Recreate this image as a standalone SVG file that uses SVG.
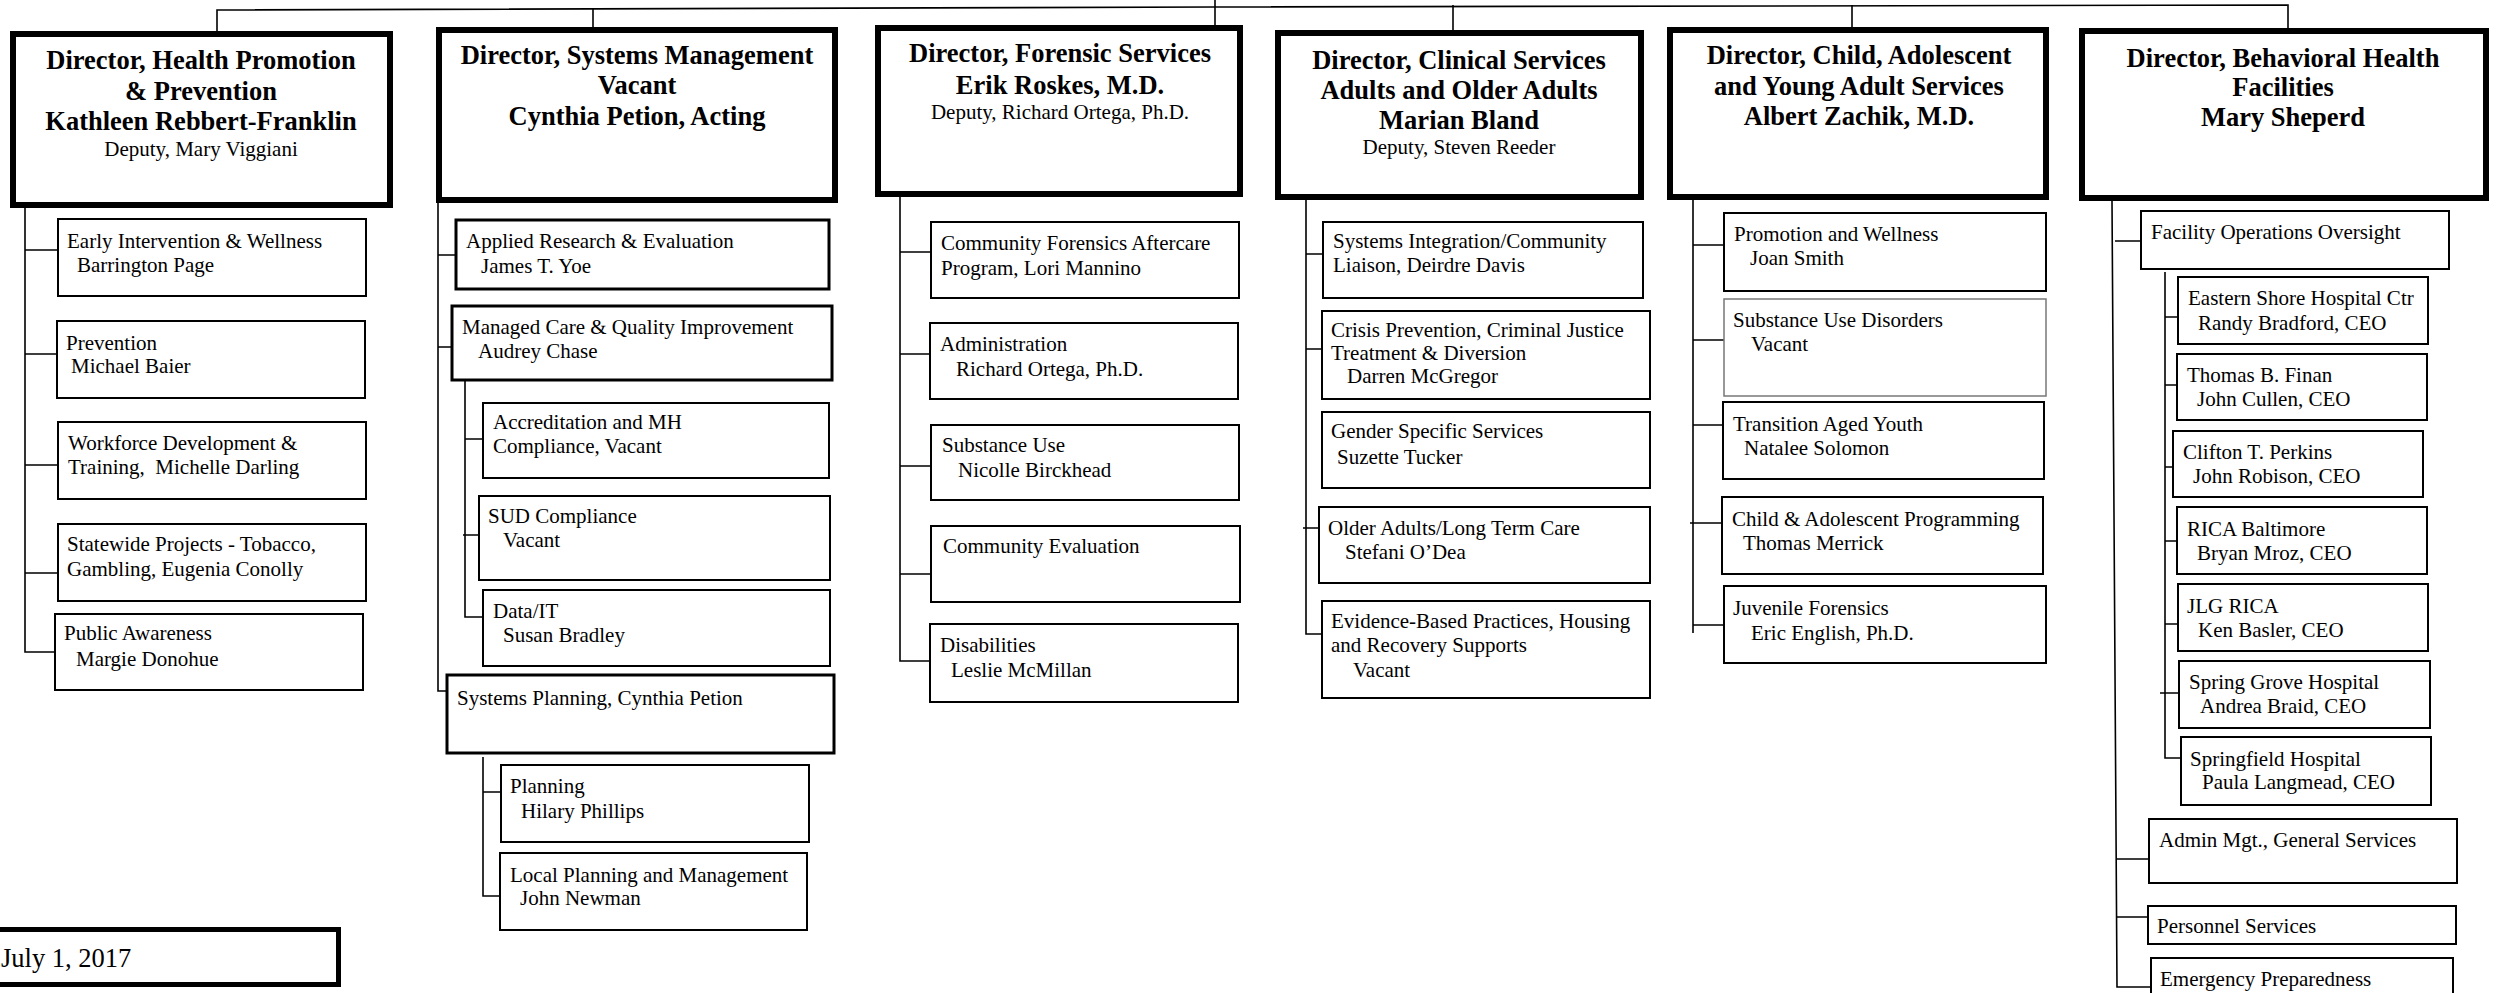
<svg xmlns="http://www.w3.org/2000/svg" width="2497" height="993" viewBox="0 0 2497 993">
<style>
text{font-family:"Liberation Serif","Times New Roman",serif;fill:#000}
.t{font-size:21px}
.h{font-size:26.5px;font-weight:bold;text-anchor:middle}
.d{font-size:21px;text-anchor:middle}
.dir{fill:#fff;stroke:#000;stroke-width:6}
.bx{fill:#fff;stroke:#000;stroke-width:2}
.bx3{fill:#fff;stroke:#000;stroke-width:3}
.gr{fill:#fff;stroke:#777;stroke-width:1.5}
.c{fill:none;stroke:#000;stroke-width:1.6}
</style>
<rect width="2497" height="993" fill="#fff"/>
<g id="connectors" class="c">
<polyline points="217,31 217,10 1215,7 2288,5 2288,28"/>
<line x1="593" y1="9" x2="593" y2="27"/>
<line x1="1215" y1="0" x2="1215" y2="28"/>
<line x1="1453" y1="5" x2="1453" y2="30"/>
<line x1="1852" y1="5" x2="1852" y2="27"/>
<path d="M25,208V652H55M25,250H58M25,354H57M25,465H58M25,573H58"/>
<path d="M438,203V691H447M438,255H456M438,347H452"/>
<path d="M465,380V617H483M465,439H483M463,535H479"/>
<path d="M483,757V896H500M483,792H501"/>
<path d="M900,197V661H930M900,252H931M900,354H930M900,466H931M900,574H931"/>
<path d="M1306,200V634H1322M1306,254H1323M1306,349H1322M1303,528H1319"/>
<path d="M1693,200V633M1693,245H1724M1693,340H1724M1693,425H1723M1690,523H1722M1693,625H1724"/>
<path d="M2112,201L2117,987H2151M2115,241H2141M2117,859H2149M2117,917H2148"/>
<path d="M2165,272V758H2181M2165,317H2178M2165,385H2177M2165,467H2173M2165,541H2177M2165,624H2178M2160,693H2179"/>
</g>
<g id="n-hp">
<rect class="dir" x="13" y="34" width="377" height="171"/>
<text class="h" x="201" y="69">Director, Health Promotion</text>
<text class="h" x="201" y="100">&amp; Prevention</text>
<text class="h" x="201" y="130">Kathleen Rebbert-Franklin</text>
<text class="d" x="201" y="156">Deputy, Mary Viggiani</text>
</g>
<g id="n-ei"><rect class="bx" x="58" y="219" width="308" height="77"/><text class="t" x="67" y="248">Early Intervention &amp; Wellness</text><text class="t" x="77" y="272">Barrington Page</text></g>
<g id="n-prev"><rect class="bx" x="57" y="321" width="308" height="77"/><text class="t" x="66" y="350">Prevention</text><text class="t" x="71" y="373">Michael Baier</text></g>
<g id="n-wf"><rect class="bx" x="58" y="422" width="308" height="77"/><text class="t" x="68" y="450">Workforce Development &amp;</text><text class="t" x="68" y="474" xml:space="preserve">Training,  Michelle Darling</text></g>
<g id="n-sw"><rect class="bx" x="58" y="524" width="308" height="77"/><text class="t" x="67" y="551">Statewide Projects - Tobacco,</text><text class="t" x="67" y="576">Gambling, Eugenia Conolly</text></g>
<g id="n-pa"><rect class="bx" x="55" y="614" width="308" height="76"/><text class="t" x="64" y="640">Public Awareness</text><text class="t" x="76" y="666">Margie Donohue</text></g>

<g id="n-sm">
<rect class="dir" x="439" y="30" width="396" height="170"/>
<text class="h" x="637" y="64">Director, Systems Management</text>
<text class="h" x="637" y="94">Vacant</text>
<text class="h" x="637" y="125">Cynthia Petion, Acting</text>
</g>
<g id="n-ar"><rect class="bx3" x="456" y="220" width="373" height="69"/><text class="t" x="466" y="248">Applied Research &amp; Evaluation</text><text class="t" x="481" y="273">James T. Yoe</text></g>
<g id="n-mc"><rect class="bx3" x="452" y="306" width="380" height="74"/><text class="t" x="462" y="334">Managed Care &amp; Quality Improvement</text><text class="t" x="478" y="358">Audrey Chase</text></g>
<g id="n-acc"><rect class="bx" x="483" y="403" width="346" height="75"/><text class="t" x="493" y="429">Accreditation and MH</text><text class="t" x="493" y="453">Compliance, Vacant</text></g>
<g id="n-sud"><rect class="bx" x="479" y="496" width="351" height="84"/><text class="t" x="488" y="523">SUD Compliance</text><text class="t" x="503" y="547">Vacant</text></g>
<g id="n-data"><rect class="bx" x="483" y="590" width="347" height="76"/><text class="t" x="493" y="618">Data/IT</text><text class="t" x="503" y="642">Susan Bradley</text></g>
<g id="n-sp"><rect class="bx3" x="447" y="675" width="387" height="78"/><text class="t" x="457" y="705">Systems Planning, Cynthia Petion</text></g>
<g id="n-plan"><rect class="bx" x="501" y="765" width="308" height="77"/><text class="t" x="510" y="793">Planning</text><text class="t" x="521" y="818">Hilary Phillips</text></g>
<g id="n-lpm"><rect class="bx" x="500" y="853" width="307" height="77"/><text class="t" x="510" y="882">Local Planning and Management</text><text class="t" x="520" y="905">John Newman</text></g>

<g id="n-fs">
<rect class="dir" x="878" y="28" width="362" height="166"/>
<text class="h" x="1060" y="62">Director, Forensic Services</text>
<text class="h" x="1060" y="94">Erik Roskes, M.D.</text>
<text class="d" x="1060" y="119">Deputy, Richard Ortega, Ph.D.</text>
</g>
<g id="n-cf"><rect class="bx" x="931" y="222" width="308" height="76"/><text class="t" x="941" y="250">Community Forensics Aftercare</text><text class="t" x="941" y="275">Program, Lori Mannino</text></g>
<g id="n-adm"><rect class="bx" x="930" y="323" width="308" height="76"/><text class="t" x="940" y="351">Administration</text><text class="t" x="956" y="376">Richard Ortega, Ph.D.</text></g>
<g id="n-su"><rect class="bx" x="931" y="425" width="308" height="75"/><text class="t" x="942" y="452">Substance Use</text><text class="t" x="958" y="477">Nicolle Birckhead</text></g>
<g id="n-ce"><rect class="bx" x="931" y="526" width="309" height="76"/><text class="t" x="943" y="553">Community Evaluation</text></g>
<g id="n-dis"><rect class="bx" x="930" y="624" width="308" height="78"/><text class="t" x="940" y="652">Disabilities</text><text class="t" x="951" y="677">Leslie McMillan</text></g>

<g id="n-cs">
<rect class="dir" x="1278" y="33" width="363" height="164"/>
<text class="h" x="1459" y="69">Director, Clinical Services</text>
<text class="h" x="1459" y="99">Adults and Older Adults</text>
<text class="h" x="1459" y="129">Marian Bland</text>
<text class="d" x="1459" y="154">Deputy, Steven Reeder</text>
</g>
<g id="n-si"><rect class="bx" x="1323" y="222" width="320" height="76"/><text class="t" x="1333" y="248">Systems Integration/Community</text><text class="t" x="1333" y="272">Liaison, Deirdre Davis</text></g>
<g id="n-cp"><rect class="bx" x="1322" y="311" width="328" height="88"/><text class="t" x="1331" y="337">Crisis Prevention, Criminal Justice</text><text class="t" x="1331" y="360">Treatment &amp; Diversion</text><text class="t" x="1347" y="383">Darren McGregor</text></g>
<g id="n-gs"><rect class="bx" x="1322" y="412" width="328" height="76"/><text class="t" x="1331" y="438">Gender Specific Services</text><text class="t" x="1337" y="464">Suzette Tucker</text></g>
<g id="n-oa"><rect class="bx" x="1319" y="507" width="331" height="76"/><text class="t" x="1328" y="535">Older Adults/Long Term Care</text><text class="t" x="1345" y="559">Stefani O’Dea</text></g>
<g id="n-eb"><rect class="bx" x="1322" y="601" width="328" height="97"/><text class="t" x="1331" y="628">Evidence-Based Practices, Housing</text><text class="t" x="1331" y="652">and Recovery Supports</text><text class="t" x="1353" y="677">Vacant</text></g>

<g id="n-ca">
<rect class="dir" x="1670" y="30" width="376" height="167"/>
<text class="h" x="1859" y="64">Director, Child, Adolescent</text>
<text class="h" x="1859" y="95">and Young Adult Services</text>
<text class="h" x="1859" y="125">Albert Zachik, M.D.</text>
</g>
<g id="n-pw"><rect class="bx" x="1724" y="213" width="322" height="78"/><text class="t" x="1734" y="241">Promotion and Wellness</text><text class="t" x="1750" y="265">Joan Smith</text></g>
<g id="n-sud2"><rect class="gr" x="1724" y="299" width="322" height="97"/><text class="t" x="1733" y="327">Substance Use Disorders</text><text class="t" x="1751" y="351">Vacant</text></g>
<g id="n-tay"><rect class="bx" x="1723" y="402" width="321" height="77"/><text class="t" x="1733" y="431">Transition Aged Youth</text><text class="t" x="1744" y="455">Natalee Solomon</text></g>
<g id="n-cap"><rect class="bx" x="1722" y="497" width="321" height="77"/><text class="t" x="1732" y="526">Child &amp; Adolescent Programming</text><text class="t" x="1743" y="550">Thomas Merrick</text></g>
<g id="n-jf"><rect class="bx" x="1724" y="586" width="322" height="77"/><text class="t" x="1733" y="615">Juvenile Forensics</text><text class="t" x="1751" y="640">Eric English, Ph.D.</text></g>

<g id="n-bh">
<rect class="dir" x="2082" y="31" width="404" height="167"/>
<text class="h" x="2283" y="67">Director, Behavioral Health</text>
<text class="h" x="2283" y="96">Facilities</text>
<text class="h" x="2283" y="126">Mary Sheperd</text>
</g>
<g id="n-fo"><rect class="bx" x="2141" y="211" width="308" height="58"/><text class="t" x="2151" y="239">Facility Operations Oversight</text></g>
<g id="n-es"><rect class="bx" x="2178" y="277" width="250" height="67"/><text class="t" x="2188" y="305">Eastern Shore Hospital Ctr</text><text class="t" x="2198" y="330">Randy Bradford, CEO</text></g>
<g id="n-tf"><rect class="bx" x="2177" y="354" width="250" height="66"/><text class="t" x="2187" y="382">Thomas B. Finan</text><text class="t" x="2197" y="406">John Cullen, CEO</text></g>
<g id="n-ct"><rect class="bx" x="2173" y="431" width="250" height="66"/><text class="t" x="2183" y="459">Clifton T. Perkins</text><text class="t" x="2193" y="483">John Robison, CEO</text></g>
<g id="n-rb"><rect class="bx" x="2177" y="507" width="250" height="67"/><text class="t" x="2187" y="536">RICA Baltimore</text><text class="t" x="2197" y="560">Bryan Mroz, CEO</text></g>
<g id="n-jlg"><rect class="bx" x="2178" y="584" width="250" height="67"/><text class="t" x="2187" y="613">JLG RICA</text><text class="t" x="2198" y="637">Ken Basler, CEO</text></g>
<g id="n-sg"><rect class="bx" x="2179" y="661" width="251" height="67"/><text class="t" x="2189" y="689">Spring Grove Hospital</text><text class="t" x="2200" y="713">Andrea Braid, CEO</text></g>
<g id="n-sh"><rect class="bx" x="2181" y="737" width="250" height="68"/><text class="t" x="2190" y="766">Springfield Hospital</text><text class="t" x="2202" y="789">Paula Langmead, CEO</text></g>
<g id="n-am"><rect class="bx" x="2149" y="819" width="308" height="64"/><text class="t" x="2159" y="847">Admin Mgt., General Services</text></g>
<g id="n-ps"><rect class="bx" x="2148" y="906" width="308" height="38"/><text class="t" x="2157" y="933">Personnel Services</text></g>
<g id="n-ep"><rect class="bx" x="2151" y="958" width="302" height="50"/><text class="t" x="2160" y="986">Emergency Preparedness</text></g>

<g id="n-date">
<rect fill="#fff" stroke="#000" stroke-width="5" x="-3" y="929.5" width="341.5" height="55"/>
<text x="1" y="967" style="font-size:26.5px">July 1, 2017</text>
</g>
</svg>
